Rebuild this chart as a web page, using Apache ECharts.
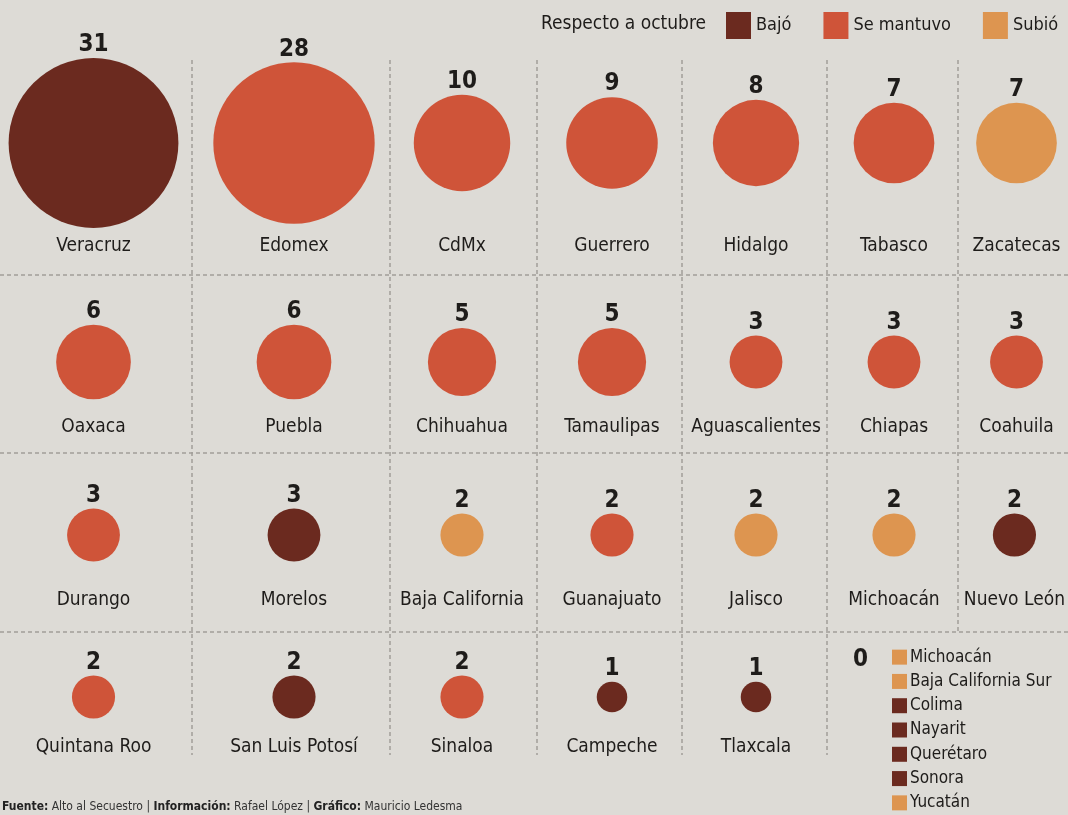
<!DOCTYPE html>
<html><head><meta charset="utf-8">
<script src="https://cdn.jsdelivr.net/npm/echarts@6/dist/echarts.min.js"></script>
<style>html,body{margin:0;padding:0;background:#dddbd6}#c{width:1068px;height:815px}</style>
</head><body><div id="c"></div>
<script>
// ---- DATA ----
const states = [
  'Veracruz','Edomex','CdMx','Guerrero','Hidalgo','Tabasco','Zacatecas',
  'Oaxaca','Puebla','Chihuahua','Tamaulipas','Aguascalientes','Chiapas','Coahuila',
  'Durango','Morelos','Baja California','Guanajuato','Jalisco','Michoacán','Nuevo León',
  'Quintana Roo','San Luis Potosí','Sinaloa','Campeche','Tlaxcala'
];
const values = [
  31, 28, 10, 9, 8, 7, 7,
  6, 6, 5, 5, 3, 3, 3,
  3, 3, 2, 2, 2, 2, 2,
  2, 2, 2, 1, 1
];
const status = [
  'Bajó','Se mantuvo','Se mantuvo','Se mantuvo','Se mantuvo','Se mantuvo','Subió',
  'Se mantuvo','Se mantuvo','Se mantuvo','Se mantuvo','Se mantuvo','Se mantuvo','Se mantuvo',
  'Se mantuvo','Bajó','Subió','Se mantuvo','Subió','Subió','Bajó',
  'Se mantuvo','Bajó','Se mantuvo','Bajó','Bajó'
];
const statusNames = ['Bajó', 'Se mantuvo', 'Subió'];
const legendTitle = 'Respecto a octubre';
const zeroValue = 0;
const zeroStates = ['Michoacán','Baja California Sur','Colima','Nayarit','Querétaro','Sonora','Yucatán'];
const zeroStatus = ['Subió','Subió','Bajó','Bajó','Bajó','Bajó','Subió'];
const footer = '{b|Fuente:} Alto al Secuestro | {b|Información:} Rafael López | {b|Gráfico:} Mauricio Ledesma';

// ---- LAYOUT / STYLE ----
const colCenters = [92, 294, 462, 612, 756, 894, 1020];
const colWidths = [190, 196, 147, 145, 145, 131, 110];
const rowCenters = [143, 362, 535, 697];
const rowLabelTop = [237, 418, 591, 738];
const vLines = [[192, 755], [390, 755], [537, 755], [682, 755], [827, 755], [958, 632]];
const hLines = [275, 453, 632];
const SIZE_K = 30.5;
const colors = {'Bajó': '#6b2a1f', 'Se mantuvo': '#cf5439', 'Subió': '#dd9550'};
const FONT = '"Liberation Sans Narrow","DejaVu Sans Condensed",sans-serif';
const TXT = '#1e1c1a';
const NCOL = 7;

const grid = [], xAxis = [], yAxis = [], series = [];
states.forEach((name, i) => {
  const r = Math.floor(i / NCOL), c = i % NCOL;
  const cy = rowCenters[r];
  grid.push({left: colCenters[c] - colWidths[c] / 2, width: colWidths[c], top: cy - 30, height: 60});
  xAxis.push({
    gridIndex: i, type: 'category', data: [name],
    axisLine: {show: false}, axisTick: {show: false}, splitLine: {show: false},
    axisLabel: {interval: 0, margin: rowLabelTop[r] - (cy + 30), fontSize: 19, color: TXT, fontFamily: FONT}
  });
  yAxis.push({gridIndex: i, type: 'category', data: [''], show: false});
  series.push({
    type: 'scatter', name: status[i], xAxisIndex: i, yAxisIndex: i, clip: false,
    itemStyle: {color: colors[status[i]], opacity: 1},
    symbolSize: v => SIZE_K * Math.sqrt(v[2]),
    label: {show: true, position: 'top', distance: 1, formatter: p => String(p.value[2]),
      fontSize: 24, fontWeight: 'bold', color: TXT, fontFamily: FONT},
    data: [[name, '', values[i]]]
  });
});

// zero list
const zi = states.length;
grid.push({left: 892, width: 15, top: 645, height: 24.5 * zeroStates.length});
xAxis.push({gridIndex: zi, type: 'category', data: [''], show: false});
yAxis.push({gridIndex: zi, type: 'category', data: zeroStates, inverse: true, position: 'right',
  axisLine: {show: false}, axisTick: {show: false}, splitLine: {show: false},
  axisLabel: {interval: 0, margin: 3, fontSize: 17, color: TXT, fontFamily: FONT}});
series.push({
  type: 'scatter', name: 'Sin casos', xAxisIndex: zi, yAxisIndex: zi, clip: false,
  symbol: 'rect', symbolSize: 15,
  data: zeroStates.map((s, k) => ({value: ['', s], itemStyle: {color: colors[zeroStatus[k]], opacity: 1}}))
});

const graphic = [];
vLines.forEach(([x, y2]) => graphic.push({type: 'line', silent: true, z: -1,
  shape: {x1: x, y1: 60, x2: x, y2: y2}, style: {stroke: '#a19e99', lineWidth: 1.5, lineDash: [4, 3]}}));
hLines.forEach(y => graphic.push({type: 'line', silent: true, z: -1,
  shape: {x1: 0, y1: y, x2: 1068, y2: y}, style: {stroke: '#a19e99', lineWidth: 1.5, lineDash: [4, 3]}}));
graphic.push({type: 'text', left: 853, top: 648,
  style: {text: String(zeroValue), fontSize: 24, fontWeight: 'bold', fill: TXT, fontFamily: FONT}});

const chart = echarts.init(document.getElementById('c'));
chart.setOption({
  animation: false,
  backgroundColor: '#dddbd6',
  title: [
    {text: legendTitle, left: 541, top: 15, padding: 0, textStyle: {fontSize: 19, fontWeight: 'normal', color: TXT, fontFamily: FONT}},
    {text: footer, left: 2, top: 801, padding: 0, textStyle: {fontSize: 12, fontWeight: 'normal', color: '#333', fontFamily: FONT,
      rich: {b: {fontSize: 12, fontWeight: 'bold', color: '#222', fontFamily: FONT}}}}
  ],
  legend: {
    data: statusNames, left: 726, top: 12, width: 342, padding: 0, icon: 'rect', itemWidth: 25, itemHeight: 27, itemGap: 32,
    selectedMode: false,
    textStyle: {fontSize: 18, color: TXT, fontFamily: FONT, padding: 0}
  },
  grid, xAxis, yAxis, series, graphic
});
</script></body></html>
